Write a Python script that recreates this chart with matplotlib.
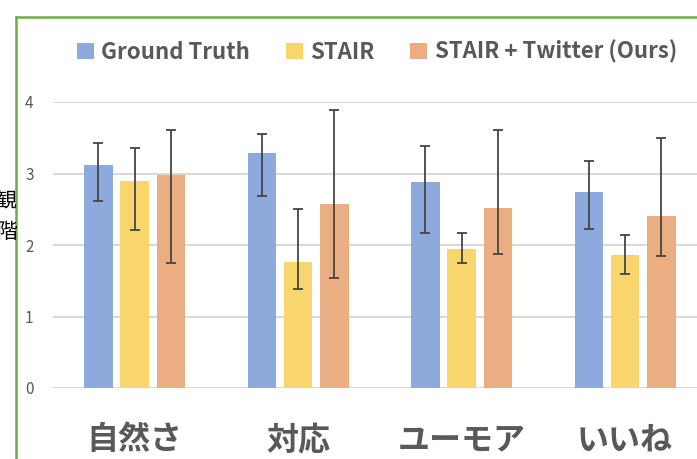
import matplotlib
matplotlib.use("Agg")
import matplotlib.pyplot as plt
import numpy as np
from matplotlib.lines import Line2D
from matplotlib.patches import Patch

plt.rcParams['font.family'] = ['Noto Sans CJK JP', 'DejaVu Sans']

categories = ["自然さ", "対応", "ユーモア", "いいね"]
series_names = ["Ground Truth", "STAIR", "STAIR + Twitter (Ours)"]
gt_mean = [3.12, 3.29, 2.88, 2.74]
gt_low = [2.62, 2.68, 2.17, 2.23]
gt_high = [3.43, 3.55, 3.39, 3.17]
stair_mean = [2.89, 1.76, 1.95, 1.86]
stair_low = [2.21, 1.39, 1.75, 1.60]
stair_high = [3.36, 2.50, 2.17, 2.14]
ours_mean = [2.98, 2.57, 2.52, 2.40]
ours_low = [1.75, 1.54, 1.88, 1.85]
ours_high = [3.61, 3.89, 3.61, 3.50]
yticks = [0, 1, 2, 3, 4]

colors = ["#8EA9DB", "#F8D66D", "#EAAE82"]
text_gray = "#595959"

W, H = 697, 459
fig = plt.figure(figsize=(W / 100, H / 100), dpi=100)
ax = fig.add_axes([53 / W, (H - 388) / H, (706.75 - 53) / W, (388 - 102) / H])

x = np.arange(len(categories))
step = 0.222
width = 0.174
data = [(gt_mean, gt_low, gt_high), (stair_mean, stair_low, stair_high), (ours_mean, ours_low, ours_high)]
for i, (m, lo, hi) in enumerate(data):
    m = np.array(m); lo = np.array(lo); hi = np.array(hi)
    pos = x + (i - 1) * step
    ax.bar(pos, m, width, color=colors[i], zorder=2)
    ax.errorbar(pos, m, yerr=[m - lo, hi - m], fmt='none', ecolor="#454545",
                elinewidth=1.3, capsize=3.5, capthick=1.3, zorder=3)

ax.set_xlim(-0.5, 3.5)
ax.set_ylim(0, 4)
ax.set_yticks(yticks)
ax.set_yticklabels([str(t) for t in yticks])
ax.yaxis.grid(True, color="#D9D9D9", linewidth=1.5, zorder=0)
ax.set_axisbelow(True)
for s in ax.spines.values():
    s.set_visible(False)
ax.tick_params(axis='y', length=0, pad=14, labelsize=11, labelcolor=text_gray)
ax.set_xticks(x)
ax.set_xticklabels(categories, fontsize=23, fontweight='bold', color=text_gray)
ax.tick_params(axis='x', length=0, pad=26)

handles = [Patch(facecolor=c, edgecolor='none') for c in colors]
leg = fig.legend(handles, series_names, loc='center', bbox_to_anchor=(377 / W, 1 - 52 / H),
                 ncol=3, frameon=False, handlelength=0.75, handleheight=0.75,
                 handletextpad=0.35, columnspacing=1.6,
                 prop={'size': 16, 'weight': 'bold'})
for t in leg.get_texts():
    t.set_color(text_gray)

fig.text(16 / W, 1 - 200 / H, "観", ha='right', va='center', fontsize=15, color='black')
fig.text(17 / W, 1 - 232 / H, "階", ha='right', va='center', fontsize=15, color='black')

green = "#70AD47"
fig.add_artist(Line2D([16 / W, 16 / W], [0, 1 - 17 / H], color=green, linewidth=1.8, transform=fig.transFigure))
fig.add_artist(Line2D([16 / W, 1], [1 - 17 / H, 1 - 17 / H], color=green, linewidth=1.8, transform=fig.transFigure))

fig.savefig("out.png", dpi=100)
